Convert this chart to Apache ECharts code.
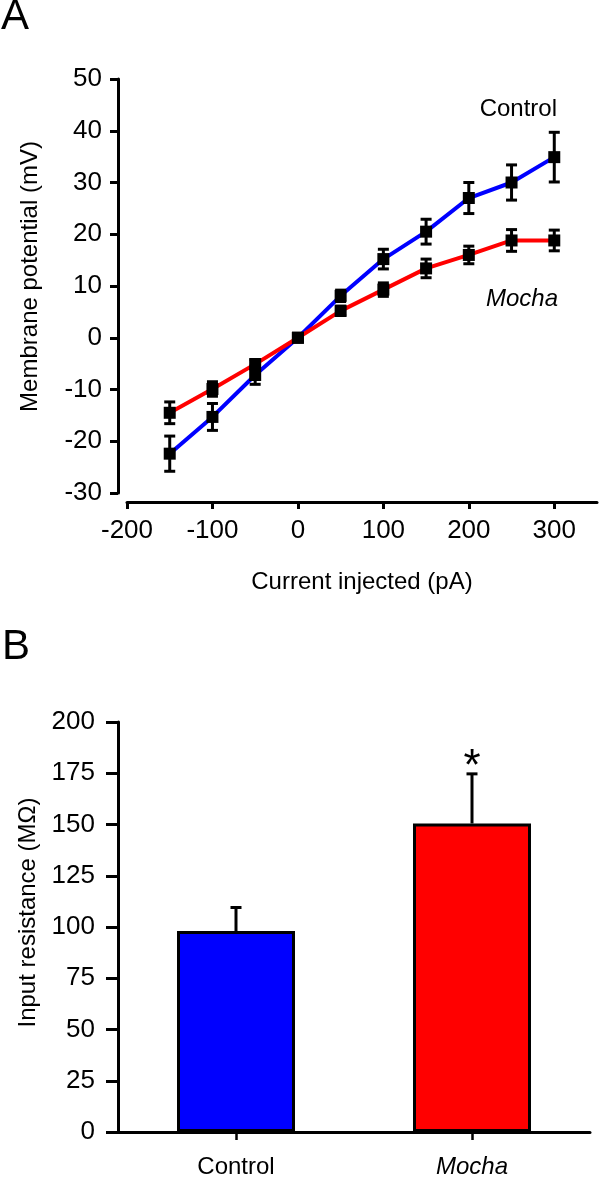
<!DOCTYPE html>
<html>
<head>
<meta charset="utf-8">
<script src="https://cdn.jsdelivr.net/npm/echarts@6/dist/echarts.min.js"></script>
<style>
  html, body { margin: 0; padding: 0; background: #fff; }
  #chart { width: 600px; height: 1179px; }
</style>
</head>
<body>
<div id="chart"></div>
<script>
// ---- Panel A data ----
const currents = [-150, -100, -50, 0, 50, 100, 150, 200, 250, 300];
const controlMean = [-22.4, -15.3, -7.2, 0, 8.1, 15.2, 20.5, 27.0, 30.0, 34.9];
const controlSem  = [3.4, 2.6, 1.8, 0.5, 1.1, 1.9, 2.4, 3.0, 3.4, 4.8];
const mochaMean   = [-14.5, -9.9, -5.1, 0, 5.2, 9.3, 13.4, 16.0, 18.8, 18.8];
const mochaSem    = [2.1, 1.4, 0.9, 0.5, 0.9, 1.3, 1.8, 1.7, 2.1, 2.0];
const xTicks = [-200, -100, 0, 100, 200, 300];
const yTicksA = [-30, -20, -10, 0, 10, 20, 30, 40, 50];

// ---- Panel B data ----
const groups = ['Control', 'Mocha'];
const resistanceMean = [98, 150.5];
const resistanceSem = [11.5, 24.2];
const significance = ['', '*'];
const yTicksB = [0, 25, 50, 75, 100, 125, 150, 175, 200];

const FONT = "'Liberation Sans', Arial, Helvetica, sans-serif";
const BLUE = '#0000FF', RED = '#FF0000';
const barColors = [BLUE, RED];

const chart = echarts.init(document.getElementById('chart'), null, { renderer: 'canvas' });

function pairs(xs, ys) { return xs.map((x, i) => [x, ys[i]]); }
function triples(xs, ys, es) { return xs.map((x, i) => [x, ys[i], es[i]]); }

function errRender(params, api) {
  const x = api.value(0), m = api.value(1), e = api.value(2);
  const hi = api.coord([x, m + e]);
  const lo = api.coord([x, m - e]);
  const cw = 5.5;
  const st = { stroke: '#000', lineWidth: 3 };
  return {
    type: 'group',
    children: [
      { type: 'line', shape: { x1: hi[0], y1: hi[1], x2: lo[0], y2: lo[1] }, style: st },
      { type: 'line', shape: { x1: hi[0] - cw, y1: hi[1], x2: hi[0] + cw, y2: hi[1] }, style: st },
      { type: 'line', shape: { x1: lo[0] - cw, y1: lo[1], x2: lo[0] + cw, y2: lo[1] }, style: st }
    ]
  };
}

function barErrRender(params, api) {
  const idx = api.value(0), m = api.value(1), e = api.value(2);
  const base = api.coord([idx, m]);
  const top = api.coord([idx, m + e]);
  const cw = 5.5;
  const st = { stroke: '#000', lineWidth: 3 };
  const children = [
    { type: 'line', shape: { x1: base[0], y1: base[1], x2: top[0], y2: top[1] }, style: st },
    { type: 'line', shape: { x1: top[0] - cw, y1: top[1], x2: top[0] + cw, y2: top[1] }, style: st }
  ];
  const s = significance[params.dataIndex];
  if (s) {
    children.push({
      type: 'text', x: top[0], y: top[1] - 6,
      style: { text: s, font: '44px ' + FONT, fill: '#000', align: 'center', verticalAlign: 'middle' }
    });
  }
  return { type: 'group', children };
}

const axisLineStyle = { color: '#000', width: 3 };

const option = {
  animation: false,
  backgroundColor: '#fff',
  textStyle: { fontFamily: FONT, color: '#000' },
  grid: [
    { left: 127, top: 79, width: 470, height: 414 },
    { left: 118, top: 722, width: 472, height: 413 }
  ],
  xAxis: [
    {
      type: 'value', gridIndex: 0, min: -200, max: 350, interval: 100, offset: 9,
      name: 'Current injected (pA)', nameLocation: 'middle', nameGap: 68,
      nameTextStyle: { fontSize: 24, color: '#000', fontFamily: FONT },
      axisLine: { show: true, onZero: false, lineStyle: axisLineStyle },
      axisTick: { show: true, length: 7, lineStyle: { color: '#000', width: 3 }, customValues: xTicks },
      axisLabel: { fontSize: 26, color: '#000', fontFamily: FONT, margin: 16, customValues: xTicks },
      splitLine: { show: false }
    },
    {
      type: 'category', gridIndex: 1, data: groups,
      axisLine: { show: true, lineStyle: axisLineStyle },
      axisTick: { show: true, alignWithLabel: true, length: 8, lineStyle: { color: '#000', width: 2.5 } },
      axisLabel: {
        fontSize: 24, color: '#000', fontFamily: FONT, margin: 23,
        formatter: v => v === 'Mocha' ? '{i|' + v + '}' : '{n|' + v + '}',
        rich: {
          n: { fontSize: 24, color: '#000', fontFamily: FONT },
          i: { fontSize: 24, color: '#000', fontFamily: FONT, fontStyle: 'italic' }
        }
      },
      splitLine: { show: false }
    }
  ],
  yAxis: [
    {
      type: 'value', gridIndex: 0, min: -30, max: 50, interval: 10, offset: 9,
      name: 'Membrane potential (mV)', nameLocation: 'middle', nameGap: 76,
      nameTextStyle: { fontSize: 24, color: '#000', fontFamily: FONT, padding: [0, 0, 0, 19] },
      axisLine: { show: true, onZero: false, lineStyle: axisLineStyle },
      axisTick: { show: true, length: 8, lineStyle: { color: '#000', width: 3 } },
      axisLabel: { fontSize: 26, color: '#000', fontFamily: FONT, margin: 16 },
      splitLine: { show: false }
    },
    {
      type: 'value', gridIndex: 1, min: 0, max: 200, interval: 25,
      name: 'Input resistance (M\u03A9)', nameLocation: 'middle', nameGap: 76,
      nameTextStyle: { fontSize: 24, color: '#000', fontFamily: FONT, padding: [0, 0, 0, 29] },
      axisLine: { show: true, onZero: false, lineStyle: axisLineStyle },
      axisTick: { show: true, length: 12, lineStyle: { color: '#000', width: 3 } },
      axisLabel: { fontSize: 26, color: '#000', fontFamily: FONT, margin: 23 },
      splitLine: { show: false }
    }
  ],
  series: [
    {
      name: 'Control', type: 'line', xAxisIndex: 0, yAxisIndex: 0, z: 2,
      data: pairs(currents, controlMean),
      symbol: 'rect', symbolSize: 12,
      itemStyle: { color: '#000' },
      lineStyle: { color: BLUE, width: 4 }
    },
    {
      name: 'Mocha', type: 'line', xAxisIndex: 0, yAxisIndex: 0, z: 2,
      data: pairs(currents, mochaMean),
      symbol: 'rect', symbolSize: 12,
      itemStyle: { color: '#000' },
      lineStyle: { color: RED, width: 4 }
    },
    {
      type: 'custom', xAxisIndex: 0, yAxisIndex: 0, z: 4,
      renderItem: errRender, data: triples(currents, controlMean, controlSem)
    },
    {
      type: 'custom', xAxisIndex: 0, yAxisIndex: 0, z: 4,
      renderItem: errRender, data: triples(currents, mochaMean, mochaSem)
    },
    {
      type: 'bar', xAxisIndex: 1, yAxisIndex: 1, barWidth: '50%', z: 2,
      data: resistanceMean.map((v, i) => ({ value: v, itemStyle: { color: barColors[i] } })),
      itemStyle: { borderColor: '#000', borderWidth: 3 }
    },
    {
      type: 'custom', xAxisIndex: 1, yAxisIndex: 1, z: 5,
      renderItem: barErrRender,
      data: groups.map((g, i) => [i, resistanceMean[i], resistanceSem[i]])
    }
  ],
  graphic: [
    { type: 'text', x: 1, y: 17.5, style: { text: 'A', font: '42px ' + FONT, fill: '#000', align: 'left', verticalAlign: 'middle' } },
    { type: 'text', x: 2, y: 647, style: { text: 'B', font: '42px ' + FONT, fill: '#000', align: 'left', verticalAlign: 'middle' } },
    { type: 'text', x: 557, y: 109, style: { text: 'Control', font: '24px ' + FONT, fill: '#000', align: 'right', verticalAlign: 'middle' } },
    { type: 'text', x: 558, y: 299, style: { text: 'Mocha', font: 'italic 24px ' + FONT, fill: '#000', align: 'right', verticalAlign: 'middle' } }
  ]
};

chart.setOption(option);
</script>
</body>
</html>
